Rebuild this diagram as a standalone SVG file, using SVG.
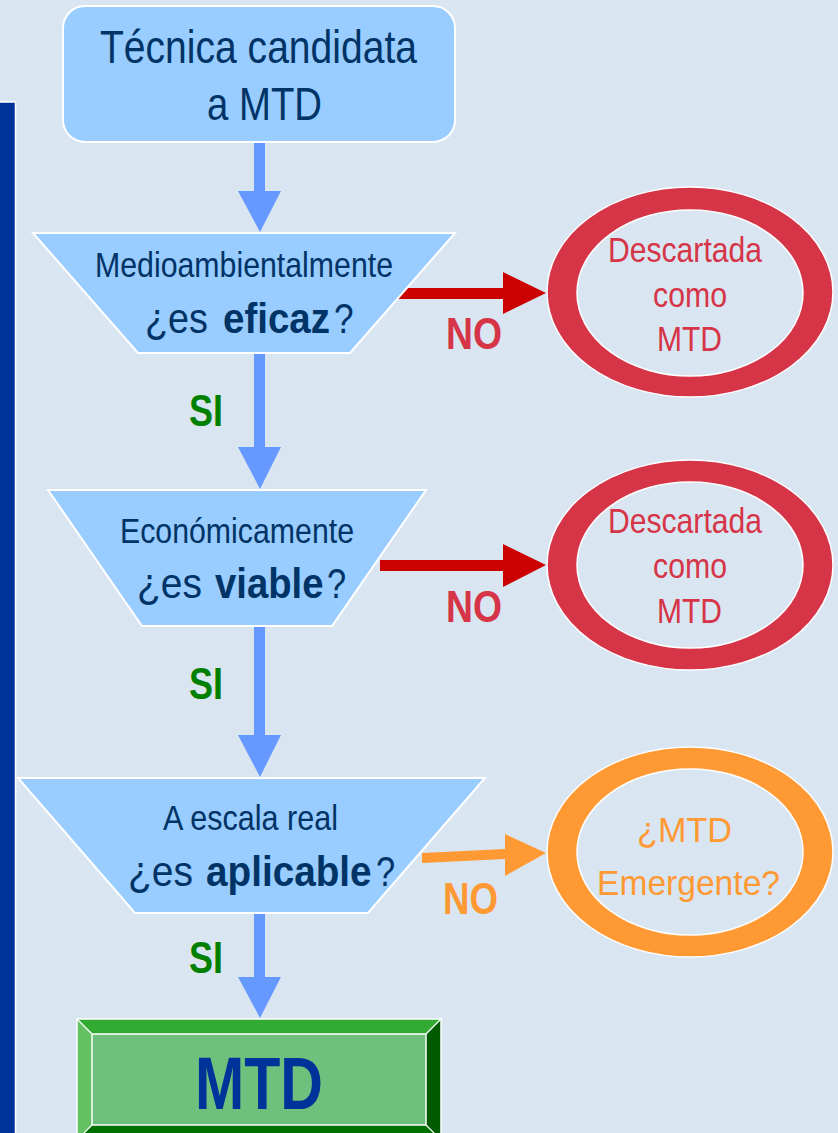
<svg xmlns="http://www.w3.org/2000/svg" width="838" height="1133" viewBox="0 0 838 1133">
<style>
  text { font-family: "Liberation Sans", Arial, sans-serif; }
  .box { fill: #99CCFF; stroke: #FFFFFF; stroke-width: 2; }
  .navy { fill: #003366; }
  .q { font-size: 43px; }
  .b { font-weight: bold; }
  .red { fill: #D63447; }
  .org { fill: #FF9933; }
  .grn { fill: #008000; font-weight: bold; }
  .ringin { fill: #DAE5F2; stroke: #FFFFFF; stroke-width: 1.5; }
  .blue { fill: #6699FF; }
</style>
<rect x="0" y="0" width="838" height="1133" fill="#DAE5F2"/>
<g id="sidebar">
  <rect x="-3" y="102" width="18.5" height="1040" fill="#003399" stroke="#FFFFFF" stroke-width="1.5"/>
</g>

<g id="connectors">
  <polygon class="blue" points="254,142 265,142 265,191 281,191 260,232 238,191 254,191"/>
  <polygon class="blue" points="254,353 265,353 265,447 281,447 260,489 238,447 254,447"/>
  <polygon class="blue" points="254,626 265,626 265,735 281,735 260,777 238,735 254,735"/>
  <polygon class="blue" points="254,913 265,913 265,977 281,977 260,1018 238,977 254,977"/>
  <polygon fill="#CC0000" points="395,288 503,288 503,272 546,293 503,314 503,299 395,299"/>
  <polygon fill="#CC0000" points="380,560 503,560 503,544 546,565 503,587 503,571 380,571"/>
  <polygon fill="#FF9933" points="422,853 505,849 505,834 546,853 505,876 505,859 422,863"/>
  <text class="grn" x="189" y="426" font-size="44" textLength="34" lengthAdjust="spacingAndGlyphs">SI</text>
  <text class="grn" x="189" y="699" font-size="44" textLength="34" lengthAdjust="spacingAndGlyphs">SI</text>
  <text class="grn" x="189" y="973" font-size="44" textLength="34" lengthAdjust="spacingAndGlyphs">SI</text>
  <text class="red b" x="446" y="349" font-size="44" textLength="56" lengthAdjust="spacingAndGlyphs">NO</text>
  <text class="red b" x="446" y="622" font-size="44" textLength="56" lengthAdjust="spacingAndGlyphs">NO</text>
  <text class="org b" x="443" y="914" font-size="44" textLength="55" lengthAdjust="spacingAndGlyphs">NO</text>
</g>

<g id="start">
  <rect class="box" x="63" y="6" width="392" height="136" rx="22" ry="22"/>
  <text class="navy" x="100" y="63" font-size="46" textLength="317" lengthAdjust="spacingAndGlyphs">Técnica candidata</text>
  <text class="navy" x="207" y="120" font-size="46" textLength="115" lengthAdjust="spacingAndGlyphs">a MTD</text>
</g>

<g id="q1">
  <polygon class="box" points="33,233 455,233 350,353 138,353"/>
  <text class="navy" x="95" y="277" font-size="35" textLength="298" lengthAdjust="spacingAndGlyphs">Medioambientalmente</text>
  <text class="navy q" transform="translate(145,333) scale(0.879,1)">¿es</text>
  <text class="navy q b" transform="translate(223,333) scale(0.895,1)">eficaz</text>
  <text class="navy q" transform="translate(334,333) scale(0.82,1)">?</text>
</g>

<g id="q2">
  <polygon class="box" points="48,490 426,490 332,626 142,626"/>
  <text class="navy" x="120" y="543" font-size="35" textLength="234" lengthAdjust="spacingAndGlyphs">Económicamente</text>
  <text class="navy q" transform="translate(137,598) scale(0.907,1)">¿es</text>
  <text class="navy q b" transform="translate(215,598) scale(0.89,1)">viable</text>
  <text class="navy q" transform="translate(327,598) scale(0.8,1)">?</text>
</g>

<g id="q3">
  <polygon class="box" points="18,778 485,778 368,913 135,913"/>
  <text class="navy" x="163" y="830" font-size="35" textLength="175" lengthAdjust="spacingAndGlyphs">A escala real</text>
  <text class="navy q" transform="translate(128,886) scale(0.907,1)">¿es</text>
  <text class="navy q b" transform="translate(206,886) scale(0.9,1)">aplicable</text>
  <text class="navy q" transform="translate(376,886) scale(0.8,1)">?</text>
</g>

<g id="discard1">
  <ellipse cx="690" cy="292" rx="143" ry="105" fill="#D63447" stroke="#FFFFFF" stroke-width="1.5"/>
  <ellipse class="ringin" cx="690" cy="293" rx="113" ry="83"/>
  <text class="red" x="608" y="262" font-size="35" textLength="154" lengthAdjust="spacingAndGlyphs">Descartada</text>
  <text class="red" x="653" y="307" font-size="35" textLength="74" lengthAdjust="spacingAndGlyphs">como</text>
  <text class="red" x="657" y="351" font-size="35" textLength="65" lengthAdjust="spacingAndGlyphs">MTD</text>
</g>

<g id="discard2">
  <ellipse cx="690" cy="565" rx="143" ry="105" fill="#D63447" stroke="#FFFFFF" stroke-width="1.5"/>
  <ellipse class="ringin" cx="690" cy="565" rx="113" ry="83"/>
  <text class="red" x="608" y="533" font-size="35" textLength="154" lengthAdjust="spacingAndGlyphs">Descartada</text>
  <text class="red" x="653" y="578" font-size="35" textLength="74" lengthAdjust="spacingAndGlyphs">como</text>
  <text class="red" x="657" y="623" font-size="35" textLength="65" lengthAdjust="spacingAndGlyphs">MTD</text>
</g>

<g id="emergent">
  <ellipse cx="690" cy="852" rx="143" ry="105" fill="#FF9933" stroke="#FFFFFF" stroke-width="1.5"/>
  <ellipse class="ringin" cx="690" cy="852" rx="113" ry="83"/>
  <text class="org" x="637" y="842" font-size="35" textLength="95" lengthAdjust="spacingAndGlyphs">¿MTD</text>
  <text class="org" x="597" y="895" font-size="35" textLength="183" lengthAdjust="spacingAndGlyphs">Emergente?</text>
</g>

<g id="result">
  <polygon fill="#33AA33" points="77,1019 441,1019 426,1034 92,1034"/>
  <polygon fill="#63C063" points="77,1019 92,1034 92,1125 77,1140"/>
  <polygon fill="#005A00" points="441,1019 441,1140 426,1125 426,1034"/>
  <polygon fill="#007000" points="77,1140 92,1125 426,1125 441,1140"/>
  <rect x="92" y="1034" width="334" height="91" fill="#6EC07C" stroke="#FFFFFF" stroke-width="1.5"/>
  <rect x="77" y="1019" width="364" height="121" fill="none" stroke="#FFFFFF" stroke-width="1.5"/>
  <line x1="77" y1="1019" x2="92" y2="1034" stroke="#FFFFFF" stroke-width="1.2"/>
  <line x1="441" y1="1019" x2="426" y2="1034" stroke="#FFFFFF" stroke-width="1.2"/>
  <line x1="77" y1="1140" x2="92" y2="1125" stroke="#FFFFFF" stroke-width="1.2"/>
  <line x1="441" y1="1140" x2="426" y2="1125" stroke="#FFFFFF" stroke-width="1.2"/>
  <text class="b" fill="#003399" x="195" y="1109" font-size="75" textLength="128" lengthAdjust="spacingAndGlyphs">MTD</text>
</g>
</svg>
